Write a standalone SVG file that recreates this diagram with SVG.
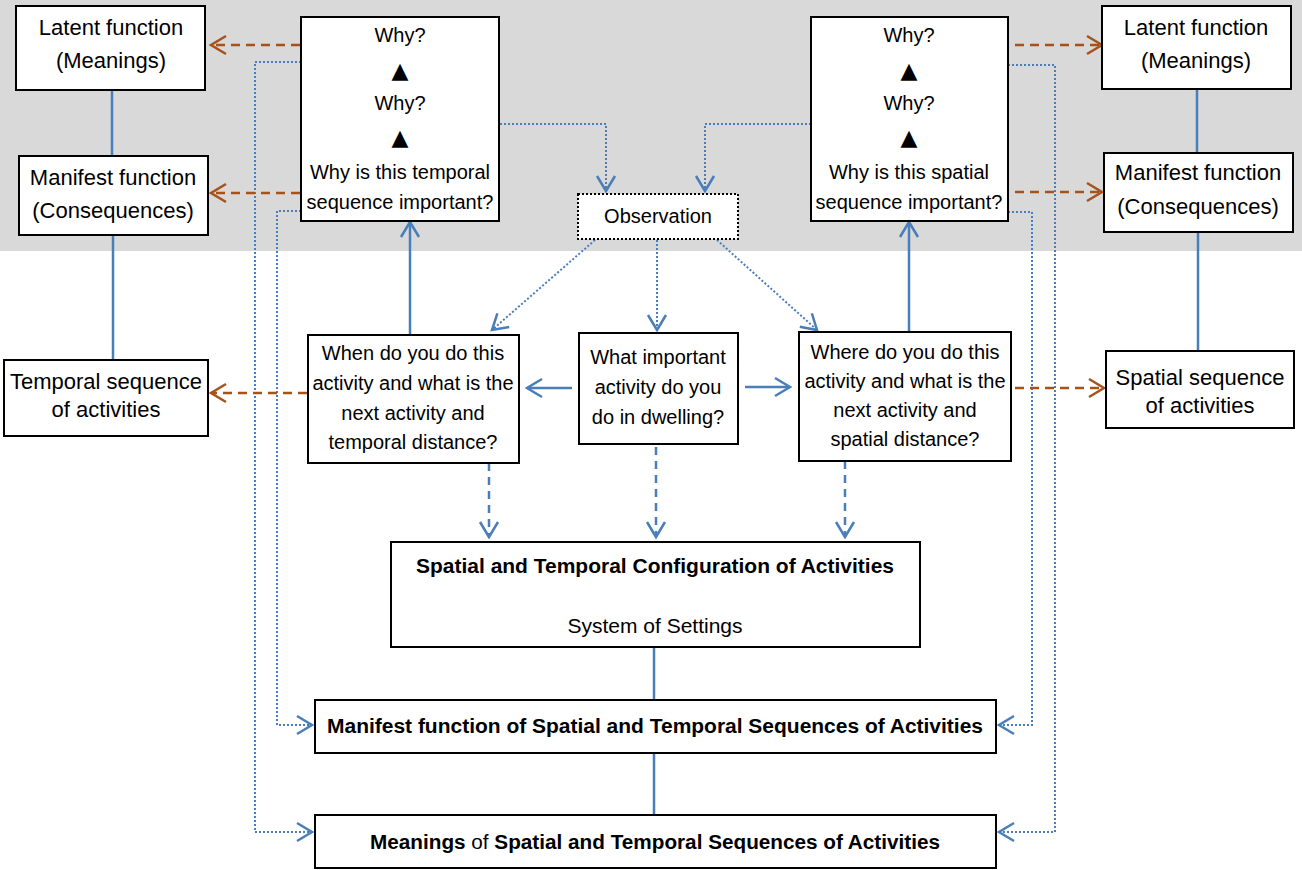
<svg xmlns="http://www.w3.org/2000/svg" width="1302" height="870" viewBox="0 0 1302 870">
<style>
.box{fill:#fff;stroke:#000;stroke-width:2}
.obs{fill:#fff;stroke:#000;stroke-width:2;stroke-dasharray:2 2}
text{font-family:"Liberation Sans",Arial,sans-serif;font-size:20px;fill:#000;text-anchor:middle}
.s{font-size:22px}
.b{font-weight:bold;font-size:20px}
.tri{font-family:"DejaVu Sans",sans-serif;font-size:22px}
.solid{fill:none;stroke:#4a7ebb;stroke-width:2.5}
.bdash{fill:none;stroke:#4a7ebb;stroke-width:2.5;stroke-dasharray:8 6}
.dot{fill:none;stroke:#4a7ebb;stroke-width:2;stroke-dasharray:2 2}
.brown{fill:none;stroke:#a5521b;stroke-width:2.5;stroke-dasharray:9 6}
</style>
<defs>
<marker id="ab" markerUnits="userSpaceOnUse" markerWidth="20" markerHeight="22" refX="16" refY="10" orient="auto" overflow="visible"><path d="M1,1 L16,10 L1,19" fill="none" stroke="#4a7ebb" stroke-width="2.5" stroke-dasharray="none"/></marker>
<marker id="ar" markerUnits="userSpaceOnUse" markerWidth="20" markerHeight="22" refX="16" refY="10" orient="auto" overflow="visible"><path d="M1,1 L16,10 L1,19" fill="none" stroke="#a5521b" stroke-width="2.5" stroke-dasharray="none"/></marker>
</defs>
<rect x="0" y="0" width="1302" height="251" fill="#d9d9d9"/>

<g id="connectors">
<path class="solid" d="M112,90 V156"/>
<path class="solid" d="M113,235 V360"/>
<path class="solid" d="M1197,89 V153"/>
<path class="solid" d="M1198,232 V351"/>
<path class="solid" d="M410,335 V222" marker-end="url(#ab)"/>
<path class="solid" d="M909,332 V222" marker-end="url(#ab)"/>
<path class="solid" d="M572,388 H527" marker-end="url(#ab)"/>
<path class="solid" d="M745,387 H790" marker-end="url(#ab)"/>
<path class="solid" d="M654,647 V700"/>
<path class="solid" d="M654,753 V815"/>
<path class="bdash" d="M489,463 V537" marker-end="url(#ab)"/>
<path class="bdash" d="M656,447 V537" marker-end="url(#ab)"/>
<path class="bdash" d="M845,461 V537" marker-end="url(#ab)"/>
<path class="dot" d="M301,62 H255 V832 H312" marker-end="url(#ab)"/>
<path class="dot" d="M301,211 H277 V725 H312" marker-end="url(#ab)"/>
<path class="dot" d="M1008,65 H1055 V832 H999" marker-end="url(#ab)"/>
<path class="dot" d="M1008,212 H1032 V725 H999" marker-end="url(#ab)"/>
<path class="dot" d="M500,124 H606 V191" marker-end="url(#ab)"/>
<path class="dot" d="M811,124 H705 V191" marker-end="url(#ab)"/>
<path class="dot" d="M595,240 L492,330" marker-end="url(#ab)"/>
<path class="dot" d="M657,240 V330" marker-end="url(#ab)"/>
<path class="dot" d="M717,240 L817,330" marker-end="url(#ab)"/>
<path class="brown" d="M300,45 H211" marker-end="url(#ar)"/>
<path class="brown" d="M300,193 H211" marker-end="url(#ar)"/>
<path class="brown" d="M307,393 H211" marker-end="url(#ar)"/>
<path class="brown" d="M1015,45 H1102" marker-end="url(#ar)"/>
<path class="brown" d="M1015,192 H1102" marker-end="url(#ar)"/>
<path class="brown" d="M1015,388 H1104" marker-end="url(#ar)"/>
</g>

<g id="latent-left"><rect class="box" x="16" y="6" width="189" height="84"/>
<text class="s" x="111" y="35">Latent function</text><text class="s" x="111" y="68">(Meanings)</text></g>
<g id="manifest-left"><rect class="box" x="19" y="156" width="189" height="79"/>
<text class="s" x="113" y="185">Manifest function</text><text class="s" x="113" y="218">(Consequences)</text></g>
<g id="temporal-seq"><rect class="box" x="4" y="360" width="204" height="76"/>
<text class="s" x="106" y="389">Temporal sequence</text><text class="s" x="106" y="417">of activities</text></g>

<g id="why-left"><rect class="box" x="301" y="17" width="198" height="204"/>
<text x="400" y="42">Why?</text><text class="tri" x="400" y="78">▲</text>
<text x="400" y="110">Why?</text><text class="tri" x="400" y="145">▲</text>
<text x="400" y="179">Why is this temporal</text><text x="400" y="209">sequence important?</text></g>

<g id="observation"><rect class="obs" x="578" y="194" width="160" height="45"/>
<text x="658" y="223">Observation</text></g>

<g id="why-right"><rect class="box" x="811" y="17" width="197" height="204"/>
<text x="909" y="42">Why?</text><text class="tri" x="909" y="78">▲</text>
<text x="909" y="110">Why?</text><text class="tri" x="909" y="145">▲</text>
<text x="909" y="179">Why is this spatial</text><text x="909" y="209">sequence important?</text></g>

<g id="latent-right"><rect class="box" x="1102" y="6" width="189" height="83"/>
<text class="s" x="1196" y="35">Latent function</text><text class="s" x="1196" y="68">(Meanings)</text></g>
<g id="manifest-right"><rect class="box" x="1104" y="153" width="189" height="79"/>
<text class="s" x="1198" y="180">Manifest function</text><text class="s" x="1198" y="214">(Consequences)</text></g>
<g id="spatial-seq"><rect class="box" x="1106" y="351" width="188" height="77"/>
<text class="s" x="1200" y="385">Spatial sequence</text><text class="s" x="1200" y="413">of activities</text></g>

<g id="when"><rect class="box" x="308" y="335" width="211" height="128"/>
<text x="413" y="360">When do you do this</text>
<text x="413" y="390">activity and what is the</text>
<text x="413" y="420">next activity and</text>
<text x="413" y="449">temporal distance?</text></g>

<g id="what"><rect class="box" x="579" y="333" width="159" height="111"/>
<text x="658" y="364">What important</text>
<text x="658" y="394">activity do you</text>
<text x="658" y="424">do in dwelling?</text></g>

<g id="where"><rect class="box" x="799" y="332" width="212" height="129"/>
<text x="905" y="359">Where do you do this</text>
<text x="905" y="388">activity and what is the</text>
<text x="905" y="417">next activity and</text>
<text x="905" y="446">spatial distance?</text></g>

<g id="config"><rect class="box" x="391" y="542" width="529" height="105"/>
<text class="b" x="655" y="573" textLength="478" lengthAdjust="spacingAndGlyphs">Spatial and Temporal Configuration of Activities</text>
<text x="655" y="633" style="font-size:21px">System of Settings</text></g>

<g id="manifest-seq"><rect class="box" x="315" y="700" width="681" height="53"/>
<text class="b" x="655" y="733" textLength="656" lengthAdjust="spacingAndGlyphs">Manifest function of Spatial and Temporal Sequences of Activities</text></g>

<g id="meanings-seq"><rect class="box" x="315" y="815" width="681" height="53"/>
<text class="b" x="655" y="849" textLength="570" lengthAdjust="spacingAndGlyphs">Meanings <tspan style="font-weight:normal">of</tspan> Spatial and Temporal Sequences of Activities</text></g>
</svg>
